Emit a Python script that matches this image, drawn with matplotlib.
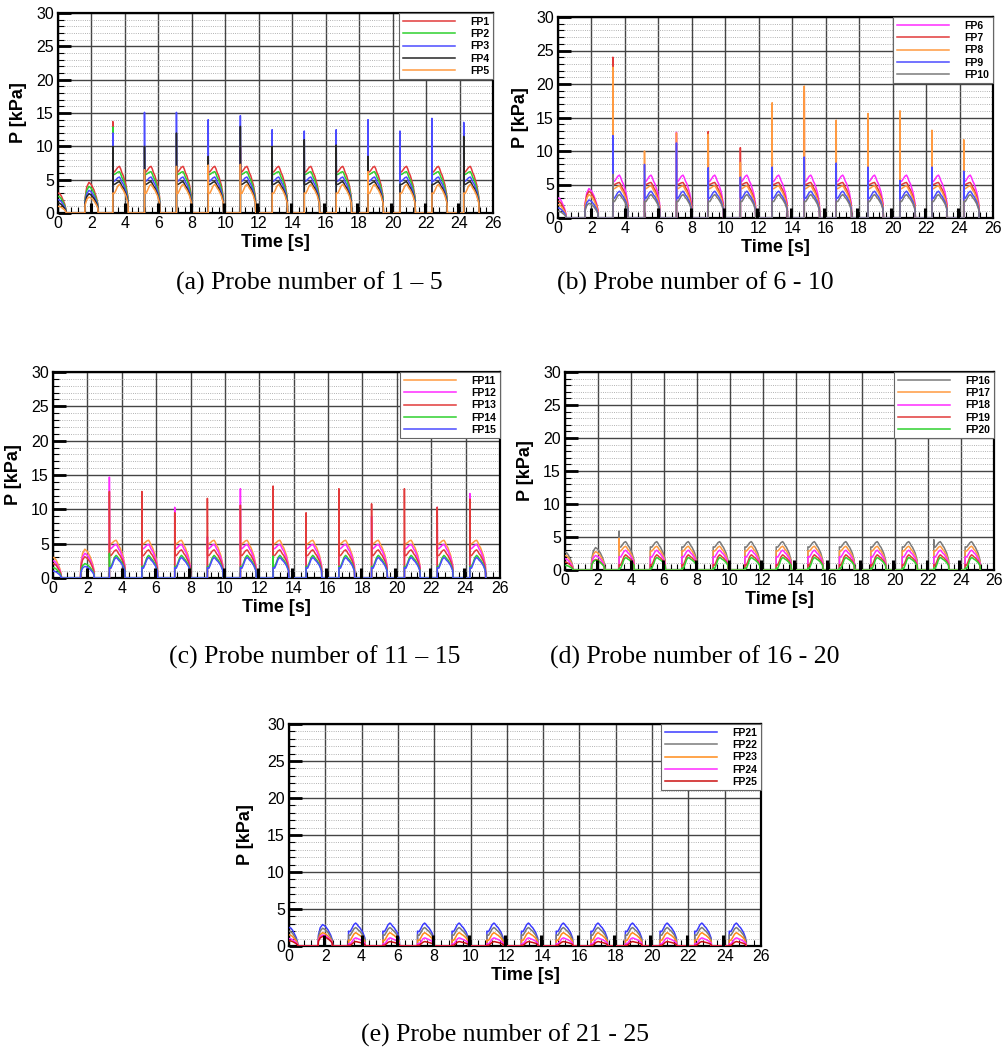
import numpy as np
import matplotlib.pyplot as plt
from matplotlib.ticker import MultipleLocator

plt.rcParams['font.family'] = ['Liberation Sans', 'DejaVu Sans']

# impact instants of the steady cycles (s) and the short black marks near the bottom
t_impact = [3.28, 5.17, 7.08, 8.98, 10.9, 12.8, 14.72, 16.63, 18.53, 20.44, 22.35, 24.25]
t_bar = [1.95, 4.0, 5.96, 7.93, 9.93, 11.9, 13.9, 15.9, 17.89, 19.88, 21.92, 23.89]
bar_h = 1.5

# shapes (time after start [s], fraction)
dec_dt = [0.0, 0.1, 0.2, 0.3, 0.4, 0.47, 0.5]
dec_f = [1.0, 0.97, 0.85, 0.65, 0.45, 0.2, 0.0]
arch_t0 = 1.6
arch_dt = [0.0, 0.02, 0.12, 0.25, 0.4, 0.55, 0.7, 0.78, 0.8]
arch_f = [0.0, 0.5, 0.85, 1.0, 0.92, 0.75, 0.5, 0.3, 0.0]
rise_dt = [0.0, 0.08, 0.18, 0.28, 0.38]
rise_f = [0.0, -0.05, 0.35, 0.8, 1.0]
fall_dt = [0.46, 0.54, 0.62, 0.70, 0.78, 0.85, 0.9, 0.92]
fall_f = [0.95, 0.86, 0.8, 0.7, 0.6, 0.45, 0.35, 0.0]

# panel (a)
names_a = ["FP1", "FP2", "FP3", "FP4", "FP5"]
colors_a = ["#e23a3a", "#2fd12f", "#4b4bff", "#262626", "#ff9a40"]
c1_a = [3.0, 2.5, 2.0, 1.5, 1.0]
c2_a = [4.6, 4.0, 3.4, 2.9, 2.4]
start_a = [6.2, 5.8, 4.8, 4.3, 3.0]
peak_a = [7.0, 6.2, 5.4, 4.7, 4.3]
spikes_a = [
    [13.7, 0, 0, 0, 10.1, 0, 0, 0, 0, 11.3, 12.0, 0],
    [12.9, 0, 0, 0, 0, 10.6, 0, 0, 0, 9.0, 11.5, 0],
    [12.0, 15.1, 15.1, 14.0, 14.6, 12.5, 12.3, 12.5, 14.0, 12.3, 14.2, 13.6],
    [10.0, 10.0, 12.0, 8.5, 13.0, 10.0, 11.0, 10.2, 8.5, 0, 0, 11.5],
    [0, 6.5, 7.0, 7.2, 7.3, 0, 0, 0, 6.2, 0, 0, 0],
]

# panel (b)
names_b = ["FP6", "FP7", "FP8", "FP9", "FP10"]
colors_b = ["#ff2bff", "#e23a3a", "#ff9a40", "#4b4bff", "#7a7a7a"]
c1_b = [3.0, 2.5, 2.0, 1.5, 1.0]
c2_b = [4.4, 4.0, 3.5, 2.7, 2.2]
start_b = [5.5, 5.0, 4.4, 3.0, 2.5]
peak_b = [6.4, 5.3, 4.8, 4.0, 3.5]
spikes_b = [
    [0, 0, 12.8, 0, 0, 0, 0, 0, 0, 0, 0, 0],
    [24.0, 0, 0, 12.9, 10.5, 15.5, 18.9, 0, 0, 14.6, 0, 0],
    [22.5, 10.0, 12.7, 12.5, 8.3, 17.2, 19.7, 14.6, 15.6, 16.0, 13.1, 11.7],
    [12.3, 8.0, 11.2, 7.5, 6.1, 7.6, 9.1, 8.2, 7.6, 5.6, 7.6, 7.0],
    [6.5, 0, 0, 0, 0, 0, 0, 0, 0, 0, 0, 0],
]

# panel (c)
names_c = ["FP11", "FP12", "FP13", "FP14", "FP15"]
colors_c = ["#ff9a40", "#ff2bff", "#e23a3a", "#2fd12f", "#4b4bff"]
c1_c = [3.0, 2.5, 2.1, 1.5, 1.0]
c2_c = [4.2, 3.6, 3.1, 2.1, 1.7]
start_c = [5.0, 4.3, 3.3, 1.7, 1.5]
peak_c = [5.5, 4.9, 4.1, 3.3, 3.0]
spikes_c = [
    [0, 0, 0, 0, 0, 0, 0, 0, 0, 0, 0, 0],
    [14.7, 8.5, 10.3, 6.0, 13.0, 13.2, 0, 0, 9.0, 0, 10.3, 12.3],
    [12.6, 12.6, 9.5, 11.6, 10.6, 13.4, 9.5, 13.0, 10.8, 13.0, 10.3, 11.5],
    [3.6, 0, 0, 0, 0, 3.2, 0, 0, 0, 0, 0, 0],
    [0, 0, 0, 0, 0, 0, 0, 0, 0, 0, 0, 0],
]

# panel (d)
names_d = ["FP16", "FP17", "FP18", "FP19", "FP20"]
colors_d = ["#7a7a7a", "#ff9a40", "#ff2bff", "#e23a3a", "#2fd12f"]
c1_d = [2.7, 2.2, 1.7, 1.2, 0.7]
c2_d = [3.4, 2.8, 2.2, 1.6, 1.5]
start_d = [3.5, 2.9, 2.0, 0.8, 0.3]
peak_d = [4.3, 3.6, 3.0, 2.3, 1.9]
spikes_d = [
    [5.9, 0, 0, 0, 0, 0, 0, 0, 0, 0, 4.6, 0],
    [4.8, 0, 0, 0, 0, 0, 0, 0, 0, 0, 0, 0],
    [0, 0, 0, 0, 0, 0, 0, 0, 0, 0, 0, 0],
    [0, 0, 0, 0, 0, 0, 0, 0, 0, 0, 0, 0],
    [0, 0, 0, 0, 0, 0, 0, 0, 0, 0, 0, 0],
]

# panel (e)
names_e = ["FP21", "FP22", "FP23", "FP24", "FP25"]
colors_e = ["#3a3aff", "#7a7a7a", "#ff8c1a", "#ff2bff", "#cc1111"]
c1_e = [2.5, 2.0, 1.5, 1.0, 0.7]
c2_e = [2.9, 2.4, 1.8, 1.5, 1.3]
start_e = [2.0, 1.5, 0.8, 0.3, 0.1]
peak_e = [3.1, 2.5, 1.8, 1.1, 0.6]
spikes_e = [[0] * 12 for _ in range(5)]

panels = [
    ("(a) Probe number of 1 \u2013 5", names_a, colors_a, c1_a, c2_a, start_a, peak_a, spikes_a),
    ("(b) Probe number of 6 - 10", names_b, colors_b, c1_b, c2_b, start_b, peak_b, spikes_b),
    ("(c) Probe number of 11 \u2013 15", names_c, colors_c, c1_c, c2_c, start_c, peak_c, spikes_c),
    ("(d) Probe number of 16 - 20", names_d, colors_d, c1_d, c2_d, start_d, peak_d, spikes_d),
    ("(e) Probe number of 21 - 25", names_e, colors_e, c1_e, c2_e, start_e, peak_e, spikes_e),
]

W, H = 1003, 1059
# axes boxes in pixels: left, top, right, bottom
boxes = [(58, 13, 493, 213), (558, 17, 993, 218), (53, 372, 500, 578),
         (565, 372, 994, 570), (289, 724, 761, 946)]
captions_xy = [(309, 283), (695, 283), (315, 657), (695, 657), (505, 1035)]
ylab_x = [27, 529, 22, 534, 254]      # right edge of the rotated y label
xlab_gap = 21                         # top of the x label below the axes


def build(c1, c2, start, peak, spikes):
    t = list(dec_dt)
    p = [c1 * f for f in dec_f]
    t += [arch_t0 + d for d in arch_dt]
    p += [c2 * f for f in arch_f]
    for t0, sp in zip(t_impact, spikes):
        t += [t0, t0]
        p += [0.0, max(sp, start)]
        t += [t0 + 0.01 + d for d in rise_dt]
        p += [start + (peak - start) * f for f in rise_f]
        t += [t0 + d for d in fall_dt]
        p += [peak * f for f in fall_f]
    return np.array(t), np.array(p)


fig = plt.figure(figsize=(W / 100, H / 100), dpi=100)

for i, (cap, names, colors, c1, c2, start, peak, spikes) in enumerate(panels):
    l, tp, r, b = boxes[i]
    ax = fig.add_axes([l / W, 1 - b / H, (r - l) / W, (b - tp) / H])
    for k in range(5):
        t, p = build(c1[k], c2[k], start[k], peak[k], spikes[k])
        ax.plot(t, p, color=colors[k], lw=1.1, label=names[k], zorder=3)
    ax.vlines(t_bar, 0, bar_h, color="black", lw=2.2, zorder=4)

    ax.set_xlim(0, 26)
    ax.set_ylim(0, 30)
    ax.xaxis.set_major_locator(MultipleLocator(2))
    ax.xaxis.set_minor_locator(MultipleLocator(0.4))
    ax.yaxis.set_major_locator(MultipleLocator(5))
    ax.yaxis.set_minor_locator(MultipleLocator(1))
    ax.grid(which="major", color="#444444", lw=1.0, zorder=1)
    ax.yaxis.grid(True, which="minor", color="#9a9a9a", lw=0.6, ls=":", zorder=1)
    ax.tick_params(which="both", direction="in", top=False, right=False, labelsize=11.5)
    ax.tick_params(which="major", axis="y", length=9, width=2, pad=3)
    ax.tick_params(which="major", axis="x", length=5, width=1.2, pad=2)
    ax.tick_params(which="minor", length=4, width=0.8)
    for s in ax.spines.values():
        s.set_linewidth(1.6)

    ax.set_xlabel("Time [s]", fontsize=13, fontweight="bold")
    ax.xaxis.set_label_coords(0.5, -xlab_gap / (b - tp))
    ax.set_ylabel("P [kPa]", fontsize=13, fontweight="bold")
    ax.yaxis.set_label_coords((ylab_x[i] - l) / (r - l), 0.5)

    leg = ax.legend(loc="upper right", borderaxespad=0, fancybox=False, edgecolor="#666666",
                    framealpha=1, handlelength=5.0, handletextpad=1.5, labelspacing=0.22,
                    borderpad=0.35, prop={"size": 7.5, "weight": "bold"})
    leg.get_frame().set_linewidth(0.8)

    fig.text(captions_xy[i][0] / W, 1 - captions_xy[i][1] / H, cap, ha="center", va="center",
             fontsize=18.5, family=["Liberation Serif", "DejaVu Serif"])

fig.savefig("out.png", dpi=100)
